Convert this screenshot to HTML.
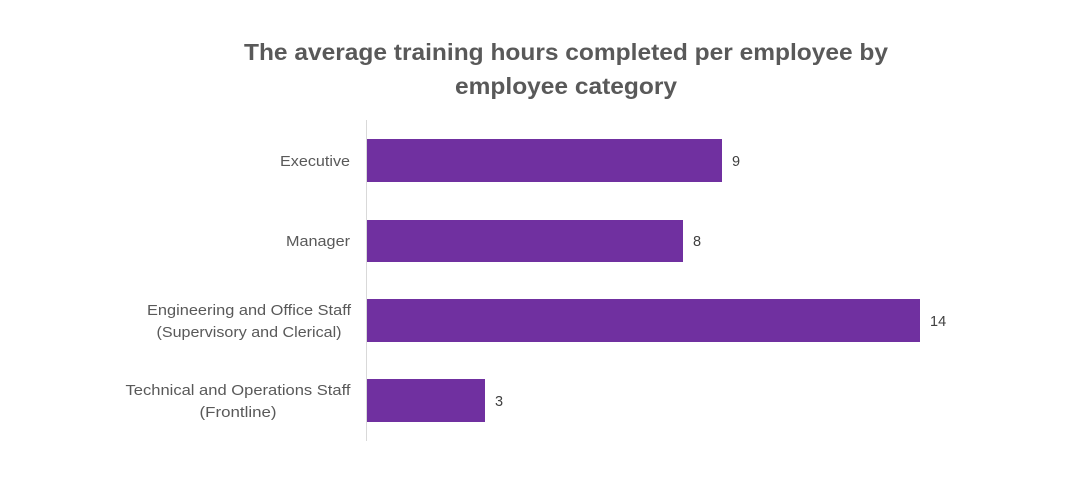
<!DOCTYPE html>
<html><head><style>body{margin:0;background:#fff}</style></head>
<body>
<svg width="1076" height="478" xmlns="http://www.w3.org/2000/svg" font-family="Liberation Sans, sans-serif">
<rect width="1076" height="478" fill="#fff"/>
<g fill="#595959" font-weight="bold" font-size="23" text-anchor="middle">
<text x="566" y="60" textLength="644" lengthAdjust="spacingAndGlyphs">The average training hours completed per employee by</text>
<text x="566" y="94" textLength="222" lengthAdjust="spacingAndGlyphs">employee category</text>
</g>
<line x1="366.5" y1="120" x2="366.5" y2="441" stroke="#d9d9d9" stroke-width="1"/>
<g fill="#7030A0">
<rect x="367" y="139" width="355" height="43"/>
<rect x="367" y="220" width="316" height="42"/>
<rect x="367" y="299" width="553" height="43"/>
<rect x="367" y="379" width="118" height="43"/>
</g>
<g fill="#404040" font-size="14.5">
<text x="732" y="166">9</text>
<text x="693" y="246">8</text>
<text x="930" y="326">14</text>
<text x="495" y="406">3</text>
</g>
<g fill="#595959" font-size="14.5" text-anchor="middle">
<text x="315" y="166" textLength="70" lengthAdjust="spacingAndGlyphs">Executive</text>
<text x="318" y="246" textLength="64" lengthAdjust="spacingAndGlyphs">Manager</text>
<text x="249" y="315" textLength="204" lengthAdjust="spacingAndGlyphs">Engineering and Office Staff</text>
<text x="249" y="337" textLength="185" lengthAdjust="spacingAndGlyphs">(Supervisory and Clerical)</text>
<text x="238" y="395" textLength="225" lengthAdjust="spacingAndGlyphs">Technical and Operations Staff</text>
<text x="238" y="417" textLength="77" lengthAdjust="spacingAndGlyphs">(Frontline)</text>
</g>
</svg>
</body></html>
